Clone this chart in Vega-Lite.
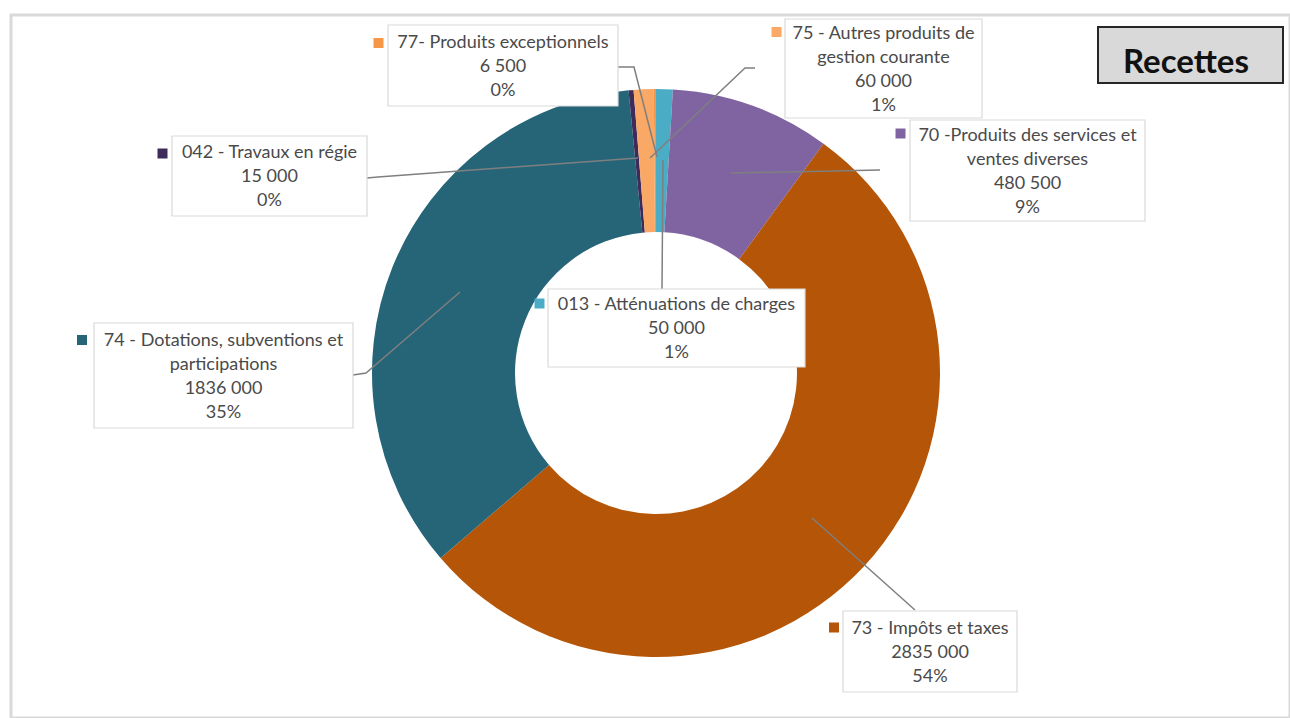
{
  "$schema": "https://vega.github.io/schema/vega-lite/v6.json",
  "width": 1279,
  "height": 703,
  "autosize": "none",
  "padding": {"left": 11, "top": 15, "right": 0, "bottom": 0},
  "background": "#ffffff",
  "config": {"view": {"stroke": "#D9D9D9", "strokeWidth": 3}},
  "title": {"text": "Recettes", "anchor": "end", "frame": "group", "font": "Lato", "fontSize": 33, "fontWeight": "bold", "color": "#111111", "offset": -65, "dx": -41},
  "data": {"values": [
    {"cat": "013 - Atténuations de charges", "value": 50000, "order": 1, "label": ["013 - Atténuations de charges", "50 000", "1%"]},
    {"cat": "70 -Produits des services et ventes diverses", "value": 480500, "order": 2, "label": ["70 -Produits des services et", "ventes diverses", "480 500", "9%"]},
    {"cat": "73 - Impôts et taxes", "value": 2835000, "order": 3, "label": ["73 - Impôts et taxes", "2835 000", "54%"]},
    {"cat": "74 - Dotations, subventions et participations", "value": 1836000, "order": 4, "label": ["74 - Dotations, subventions et", "participations", "1836 000", "35%"]},
    {"cat": "042 - Travaux en régie", "value": 15000, "order": 5, "label": ["042 - Travaux en régie", "15 000", "0%"]},
    {"cat": "75 - Autres produits de gestion courante", "value": 60000, "order": 6, "label": ["75 - Autres produits de", "gestion courante", "60 000", "1%"]},
    {"cat": "77- Produits exceptionnels", "value": 6500, "order": 7, "label": ["77- Produits exceptionnels", "6 500", "0%"]}
  ]},
  "resolve": {"scale": {"shape": "independent"}},
  "layer": [
    {
      "mark": {"type": "arc", "innerRadius": 141, "outerRadius": 284, "xOffset": 5.5, "yOffset": 6.5},
      "encoding": {
        "theta": {"field": "value", "type": "quantitative", "stack": true},
        "order": {"field": "order", "type": "quantitative"},
        "color": {"field": "cat", "type": "nominal", "legend": null,
          "scale": {"domain": ["013 - Atténuations de charges", "70 -Produits des services et ventes diverses", "73 - Impôts et taxes", "74 - Dotations, subventions et participations", "042 - Travaux en régie", "75 - Autres produits de gestion courante", "77- Produits exceptionnels"],
                    "range": ["#4BACC6", "#8064A2", "#B45507", "#256577", "#3F2B5B", "#F9A866", "#F79646"]}}
      }
    },
    {
      "mark": {"type": "point", "filled": false, "stroke": "#7F7F7F", "strokeWidth": 1.5, "size": 4, "opacity": 1},
      "encoding": {
        "x": {"field": "value", "type": "quantitative", "axis": null, "scale": {"nice": false, "zero": false, "domain": [6500, 15000, 50000, 60000, 480500, 1836000, 2835000], "range": [492, 258.5, 665.5, 872.5, 1016.5, 212.5, 919]}},
        "y": {"field": "value", "type": "quantitative", "axis": null, "scale": {"nice": false, "zero": false, "domain": [6500, 15000, 50000, 60000, 480500, 1836000, 2835000], "range": [50.5, 161, 313, 53.5, 155.5, 360.5, 636.5]}},
        "shape": {"field": "cat", "type": "nominal", "legend": null,
          "scale": {"domain": ["013 - Atténuations de charges", "70 -Produits des services et ventes diverses", "73 - Impôts et taxes", "74 - Dotations, subventions et participations", "042 - Travaux en régie", "75 - Autres produits de gestion courante", "77- Produits exceptionnels"],
                    "range": ["M-14.5,-39L-13.5,-168", "M-147.5,-0.5L-296.5,2.5", "M-15,-41.5L-118,-133.5", "M129.5,-0.5L142.5,-2.5L236.5,-83.5", "M97.5,2L108.5,1L368.5,-18", "M-128.5,-0.5L-138.5,-0.5L-233.5,89.5", "M115,1.5L131,1.5L154,91.5"]}}
      }
    },
    {
      "mark": {"type": "point", "filled": true, "fill": "#FFFFFF", "stroke": "#D9D9D9", "strokeWidth": 1.2, "size": 4, "opacity": 1},
      "encoding": {
        "x": {"field": "value", "type": "quantitative"},
        "y": {"field": "value", "type": "quantitative"},
        "shape": {"field": "cat", "type": "nominal", "legend": null,
          "scale": {"domain": ["013 - Atténuations de charges", "70 -Produits des services et ventes diverses", "73 - Impôts et taxes", "74 - Dotations, subventions et participations", "042 - Travaux en régie", "75 - Autres produits de gestion courante", "77- Produits exceptionnels"],
                    "range": ["M-128.5,-39h257v78h-257z", "M-117.5,-50.5h235v101h-235z", "M-87,-40.5h174v81h-174z", "M-129.5,-52.5h259v105h-259z", "M-97.5,-40h195v80h-195z", "M-98.5,-49.5h197v99h-197z", "M-115,-40.5h230v81h-230z"]}}
      }
    },
    {
      "mark": {"type": "point", "filled": true, "size": 4, "opacity": 1, "strokeWidth": 0},
      "encoding": {
        "x": {"field": "value", "type": "quantitative"},
        "y": {"field": "value", "type": "quantitative"},
        "color": {"field": "cat", "type": "nominal", "legend": null},
        "shape": {"field": "cat", "type": "nominal", "legend": null,
          "scale": {"domain": ["013 - Atténuations de charges", "70 -Produits des services et ventes diverses", "73 - Impôts et taxes", "74 - Dotations, subventions et participations", "042 - Travaux en régie", "75 - Autres produits de gestion courante", "77- Produits exceptionnels"],
                    "range": ["M-142,-29.5h10v10h-10z", "M-132,-42h10v10h-10z", "M-101,-29h10v10h-10z", "M-146.5,-40.5h10v10h-10z", "M-112,-27.5h10v10h-10z", "M-112,-41.5h10v10h-10z", "M-129.5,-27.5h10v10h-10z"]}}
      }
    },
    {
      "transform": [{"filter": "length(datum.label) == 3"}],
      "mark": {"type": "text", "font": "Lato", "fontSize": 18, "fill": "#4A4A4A", "lineHeight": 24, "align": "center", "baseline": "middle", "dy": -23},
      "encoding": {
        "x": {"field": "value", "type": "quantitative"},
        "y": {"field": "value", "type": "quantitative"},
        "text": {"field": "label"}
      }
    },
    {
      "transform": [{"filter": "length(datum.label) == 4"}],
      "mark": {"type": "text", "font": "Lato", "fontSize": 18, "fill": "#4A4A4A", "lineHeight": 24, "align": "center", "baseline": "middle", "dy": -35},
      "encoding": {
        "x": {"field": "value", "type": "quantitative"},
        "y": {"field": "value", "type": "quantitative"},
        "text": {"field": "label"}
      }
    },
    {
      "data": {"values": [{"box": "Recettes"}]},
      "mark": {"type": "point", "filled": true, "fill": "#D9D9D9", "stroke": "#262626", "strokeWidth": 2, "size": 4, "opacity": 1, "shape": "M447.5,-339.5h185v56h-185z"},
      "encoding": {}
    }
  ]
}
